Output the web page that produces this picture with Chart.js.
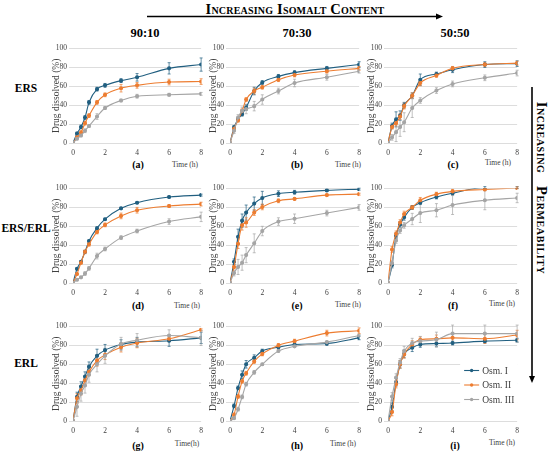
<!DOCTYPE html>
<html>
<head>
<meta charset="utf-8">
<script src="https://cdn.jsdelivr.net/npm/chart.js@4.4.0/dist/chart.umd.min.js"></script>
<style>
  body { margin: 0; background: #fff; width: 550px; height: 457px; position: relative; overflow: hidden; font-family: 'Liberation Serif', serif; }
  canvas { position: absolute; }
  .lbl { position: absolute; white-space: nowrap; color: #000; transform: translate(-50%, -50%); }
  .bold { font-weight: bold; }
  .time { font-size: 7.5px; color: #404040; }
  .sc { font-variant: small-caps; font-weight: bold; font-size: 14.5px; letter-spacing: 0.2px; }
  svg { position: absolute; left: 0; top: 0; }
</style>
</head>
<body>
<svg width="550" height="457">
  <line x1="147" y1="16.5" x2="437" y2="16.5" stroke="#000" stroke-width="1.6"/>
  <polygon points="436,13.5 443,16.5 436,19.5" fill="#000"/>
  <line x1="532" y1="87" x2="532" y2="377" stroke="#000" stroke-width="1.6"/>
  <polygon points="529,376 532,383 535,376" fill="#000"/>
</svg>
<div class="lbl sc" style="left:295px;top:9px">Increasing Isomalt Content</div>
<div class="lbl sc" style="left:541px;top:188px;transform:translate(-50%,-50%) rotate(90deg);letter-spacing:0.6px">Increasing&nbsp;&nbsp;&nbsp;Permeability</div>

<div class="lbl bold" style="left:145px;top:33px;font-size:12.5px">90:10</div>
<div class="lbl bold" style="left:297px;top:33px;font-size:12.5px">70:30</div>
<div class="lbl bold" style="left:455px;top:33px;font-size:12.5px">50:50</div>

<div class="lbl bold" style="left:26px;top:88px;font-size:11.5px">ERS</div>
<div class="lbl bold" style="left:26px;top:228px;font-size:11.5px">ERS/ERL</div>
<div class="lbl bold" style="left:26px;top:363px;font-size:11.5px">ERL</div>

<div class="lbl bold" style="left:138px;top:164px;font-size:10px">(a)</div>
<div class="lbl bold" style="left:297px;top:164px;font-size:10px">(b)</div>
<div class="lbl bold" style="left:453px;top:164px;font-size:10px">(c)</div>
<div class="lbl bold" style="left:138px;top:305px;font-size:10px">(d)</div>
<div class="lbl bold" style="left:297px;top:305px;font-size:10px">(e)</div>
<div class="lbl bold" style="left:453px;top:305px;font-size:10px">(f)</div>
<div class="lbl bold" style="left:138px;top:445px;font-size:10px">(g)</div>
<div class="lbl bold" style="left:297px;top:445px;font-size:10px">(h)</div>
<div class="lbl bold" style="left:455px;top:445px;font-size:10px">(i)</div>

<div class="lbl time" style="left:185px;top:164px">Time (h)</div>
<div class="lbl time" style="left:348px;top:164px">Time (h)</div>
<div class="lbl time" style="left:498px;top:162px">Time (h)</div>
<div class="lbl time" style="left:187px;top:305px">Time (h)</div>
<div class="lbl time" style="left:348px;top:304px">Time (h)</div>
<div class="lbl time" style="left:502px;top:303px">Time (h)</div>
<div class="lbl time" style="left:187px;top:443px">Time(h)</div>
<div class="lbl time" style="left:343px;top:443px">Time (h)</div>
<div class="lbl time" style="left:502px;top:442px">Time (h)</div>

<canvas id="a"></canvas><canvas id="b"></canvas><canvas id="c"></canvas>
<canvas id="d"></canvas><canvas id="e"></canvas><canvas id="f"></canvas>
<canvas id="g"></canvas><canvas id="h"></canvas><canvas id="i"></canvas>

<script>
// sampling times (h)
const times = [0, 0.25, 0.5, 0.75, 1, 1.5, 2, 3, 4, 6, 8];
const seriesNames = ['Osm. I', 'Osm. II', 'Osm. III'];
const xTicks = [0, 2, 4, 6, 8];
const yTicks = [0, 20, 40, 60, 80, 100];

// (a) ERS 90:10
const a_I   = [0, 10, 17, 27, 43, 57, 61, 66, 69.5, 79, 83];
const a_II  = [0, 6, 11, 21, 29, 43, 51, 58, 61, 64.5, 65];
const a_III = [0, 4.5, 8, 13, 18, 28, 37, 45, 49.5, 51, 52];
const a_I_sd   = [0, 1.5, 2, 2, 2, 2, 2, 2, 4, 6, 7];
const a_II_sd  = [0, 1, 2, 2, 2, 2, 2, 4, 3, 3, 3];
const a_III_sd = [0, 1, 1.5, 2, 1.5, 3, 1.5, 1.5, 2, 1.5, 1.5];
// (b) ERS 70:30
const b_I   = [0, 16.5, 25, 30.5, 37.5, 55, 64, 70.5, 74.5, 79, 83];
const b_II  = [0, 15, 24, 34, 46, 55, 59, 67, 72, 76, 79];
const b_III = [0, 13, 27, 34, 36, 39, 46, 55, 63.5, 69.5, 76];
const b_I_sd   = [0, 2, 2, 2, 3, 4, 2, 2, 2, 2, 3];
const b_II_sd  = [0, 2, 2, 2, 2, 3, 2, 2, 2, 2, 2];
const b_III_sd = [0, 3, 3, 4, 5, 5, 5, 3, 4, 3, 2];
// (c) ERS 50:50
const c_I   = [0, 18, 25, 29, 40, 50, 67, 73, 77.5, 83, 84];
const c_II  = [0, 17, 21, 28, 39, 50, 63.5, 71.5, 79, 83, 84.5];
const c_III = [0, 6, 11.5, 17, 22, 37, 45, 55.5, 62.5, 69, 74];
const c_I_sd   = [0, 3, 8, 5, 3, 3, 6, 2, 3, 3, 3];
const c_II_sd  = [0, 2, 3, 3, 3, 3, 3, 2, 2, 2, 2];
const c_III_sd = [0, 3, 10, 10, 10, 10, 3, 3, 3, 3, 3];
// (d) ERS/ERL 90:10
const d_I   = [0, 15, 22.5, 33, 44.5, 58, 67.5, 79, 85, 91, 93];
const d_II  = [0, 9.5, 21.5, 33, 41, 54, 61.5, 71, 77, 81.5, 83.5];
const d_III = [0, 3.5, 6, 10, 15.5, 28.5, 36, 48, 55, 65, 70];
const d_I_sd   = [0, 1, 1, 1, 1, 1.5, 1, 1, 1, 1, 1];
const d_II_sd  = [0, 1, 1.5, 2, 2, 2, 2, 3, 3, 1.5, 2];
const d_III_sd = [0, 1, 1, 2, 2, 3, 2, 2, 2, 3, 5];
// (e) ERS/ERL 70:30
const e_I   = [0, 22.5, 49, 66, 74.5, 84, 90, 94.5, 96, 98, 99.3];
const e_II  = [0, 17, 41.5, 61, 64, 74.5, 80.5, 87, 89, 93, 94];
const e_III = [0, 10.5, 17, 21.5, 29.5, 42, 55, 65, 68, 74, 80];
const e_I_sd   = [0, 3, 8, 7, 8, 7, 7, 3, 2, 1, 1];
const e_II_sd  = [0, 2, 5, 5, 5, 3, 3, 2, 1, 1, 1];
const e_III_sd = [0, 3, 8, 8, 8, 10, 5, 4, 5, 3, 3];
// (f) ERS/ERL 50:50
const f_I   = [0, 19, 50, 62, 69.5, 80, 85, 91, 95, 101, 101];
const f_II  = [0, 35.5, 52, 64, 73, 80, 87.5, 94, 97, 99, 100.7];
const f_III = [0, 21, 45, 55.5, 61, 67.7, 74, 77, 82.5, 87.5, 90];
const f_I_sd   = [0, 3, 3, 3, 3, 2, 2, 2, 2, 1, 1];
const f_II_sd  = [0, 3, 3, 3, 3, 2, 3, 2, 2, 1, 1];
const f_III_sd = [0, 3, 3, 3, 3, 6, 10, 7, 10, 10, 5];
// (g) ERL 90:10
const g_I   = [0, 25.5, 36.5, 47, 57.5, 69, 75, 81, 83.5, 85, 88];
const g_II  = [0, 24, 32.5, 43, 52, 64, 70, 78, 82.5, 87, 96.5];
const g_III = [0, 15, 29, 37.5, 49, 60, 69, 81.5, 85.5, 90.5, 88];
const g_I_sd   = [0, 5, 5, 5, 5, 7, 6, 5, 5, 6, 6];
const g_II_sd  = [0, 5, 5, 4, 4, 6, 5, 5, 5, 3, 1];
const g_III_sd = [0, 10, 8, 8, 8, 8, 8, 7, 7, 6, 8];
// (h) ERL 70:30
const h_I   = [0, 16, 35, 49, 60, 67, 74, 78, 81, 82, 88];
const h_II  = [0, 6.5, 26, 42, 50.5, 63, 71, 80, 84.5, 93, 95.5];
const h_III = [0, 3, 12.5, 25.5, 39, 51.5, 60, 74, 79, 83.5, 90.5];
const h_I_sd   = [0, 2, 2, 4, 4, 3, 2, 2, 2, 2, 2];
const h_II_sd  = [0, 2, 2, 2, 2, 2, 2, 2, 2, 3, 3];
const h_III_sd = [0, 1, 2, 2, 2, 2, 1, 1, 1, 1, 1];
// (i) ERL 50:50
const i_I   = [0, 15, 41, 60, 71, 77.5, 81, 82, 82.5, 84.5, 85.5];
const i_II  = [0, 9.5, 39, 60, 70.5, 81, 86, 87, 88, 87, 91];
const i_III = [0, 26, 46, 62, 74, 82.5, 84.5, 86, 92.5, 92.5, 92.5];
const i_I_sd   = [0, 4, 4, 4, 4, 4, 3, 3, 2, 2, 2];
const i_II_sd  = [0, 4, 4, 4, 4, 4, 3, 4, 5, 5, 5];
const i_III_sd = [0, 4, 4, 4, 5, 5, 5, 8, 9, 9, 9];

const colors = ['#215f80', '#ed7d31', '#a5a5a5'];
const serif = "'Liberation Serif', serif";

// panel plot-area boxes: [left, top, width, height]
const panels = {
  a: { box: [72.7, 46.7, 130.3, 96], vals: [a_I, a_II, a_III], sd: [a_I_sd, a_II_sd, a_III_sd] },
  b: { box: [230, 46.7, 130.7, 96], vals: [b_I, b_II, b_III], sd: [b_I_sd, b_II_sd, b_III_sd] },
  c: { box: [388, 46.7, 131, 96], vals: [c_I, c_II, c_III], sd: [c_I_sd, c_II_sd, c_III_sd] },
  d: { box: [72.7, 187.3, 130.3, 96], vals: [d_I, d_II, d_III], sd: [d_I_sd, d_II_sd, d_III_sd] },
  e: { box: [230, 187.3, 130.7, 96], vals: [e_I, e_II, e_III], sd: [e_I_sd, e_II_sd, e_III_sd] },
  f: { box: [388, 187.3, 131, 96], vals: [f_I, f_II, f_III], sd: [f_I_sd, f_II_sd, f_III_sd] },
  g: { box: [72.7, 325, 130.3, 96.3], vals: [g_I, g_II, g_III], sd: [g_I_sd, g_II_sd, g_III_sd] },
  h: { box: [230, 325, 130.7, 96.3], vals: [h_I, h_II, h_III], sd: [h_I_sd, h_II_sd, h_III_sd] },
  i: { box: [388, 325, 131, 96.3], vals: [i_I, i_II, i_III], sd: [i_I_sd, i_II_sd, i_III_sd], legend: true }
};

const AXW = 22, AXH = 16, PADT = 5, PADR = 6;

// draws the +/- error bars through the chart scales
const errorBars = {
  id: 'errorBars',
  beforeDatasetsDraw(chart) {
    const { ctx, scales: { x, y } } = chart;
    ctx.save();
    ctx.lineWidth = 0.7;
    chart.data.datasets.forEach(ds => {
      ctx.strokeStyle = ds.borderColor;
      ds.data.forEach(p => {
        if (!p.sd) return;
        const px = x.getPixelForValue(p.x);
        const y1 = y.getPixelForValue(p.y - p.sd);
        const y2 = y.getPixelForValue(p.y + p.sd);
        ctx.beginPath();
        ctx.moveTo(px, y1); ctx.lineTo(px, y2);
        ctx.moveTo(px - 1.5, y1); ctx.lineTo(px + 1.5, y1);
        ctx.moveTo(px - 1.5, y2); ctx.lineTo(px + 1.5, y2);
        ctx.stroke();
      });
    });
    ctx.restore();
  }
};

// legend box inside panel (i)
const innerLegend = {
  id: 'innerLegend',
  afterDatasetsDraw(chart) {
    if (!chart.options.plugins.innerLegend.show) return;
    const { ctx, chartArea: ca } = chart;
    const lx = ca.right - 55, ly = ca.top + 36;
    ctx.save();
    ctx.fillStyle = '#fff';
    ctx.fillRect(lx - 2, ly, 57, 46);
    ctx.font = '9.5px ' + serif;
    ctx.textBaseline = 'middle';
    chart.data.datasets.forEach((ds, k) => {
      const ry = ly + 8 + k * 14.5;
      ctx.strokeStyle = ds.borderColor;
      ctx.fillStyle = ds.borderColor;
      ctx.lineWidth = 1.1;
      ctx.beginPath(); ctx.moveTo(lx + 2, ry); ctx.lineTo(lx + 17, ry); ctx.stroke();
      ctx.beginPath(); ctx.arc(lx + 9.5, ry, 1.7, 0, Math.PI * 2); ctx.fill();
      ctx.fillStyle = '#404040';
      ctx.fillText(ds.label, lx + 20, ry + 0.5);
    });
    ctx.restore();
  }
};

Object.entries(panels).forEach(([id, p]) => {
  const [l, t, w, h] = p.box;
  const cv = document.getElementById(id);
  cv.width = Math.round(AXW + w + PADR);
  cv.height = Math.round(PADT + h + AXH);
  cv.style.left = (l - AXW) + 'px';
  cv.style.top = (t - PADT) + 'px';

  new Chart(cv.getContext('2d'), {
    type: 'line',
    data: {
      datasets: p.vals.map((v, k) => ({
        label: seriesNames[k],
        data: times.map((tt, j) => ({ x: tt, y: v[j], sd: p.sd[k][j] })),
        borderColor: colors[k],
        backgroundColor: colors[k],
        borderWidth: 1.1,
        pointRadius: 1.5,
        pointHoverRadius: 0,
        cubicInterpolationMode: 'monotone',
        order: 3 - k
      }))
    },
    options: {
      responsive: false,
      animation: false,
      events: [],
      layout: { padding: { top: PADT, right: PADR, left: 0, bottom: 0 } },
      plugins: { legend: { display: false }, tooltip: { enabled: false }, innerLegend: { show: !!p.legend } },
      scales: {
        x: {
          type: 'linear', min: 0, max: 8,
          afterBuildTicks: s => { s.ticks = xTicks.map(v => ({ value: v })); },
          afterFit: s => { s.height = AXH; },
          grid: { display: false, drawTicks: false, tickLength: 0 },
          border: { display: false },
          ticks: { font: { family: serif, size: 7.5 }, color: '#404040', padding: 6, maxRotation: 0 }
        },
        y: {
          min: 0, max: 100,
          afterBuildTicks: s => { s.ticks = yTicks.map(v => ({ value: v })); },
          afterFit: s => { s.width = AXW; },
          grid: { color: '#d9d9d9', lineWidth: 0.9, tickLength: 4 },
          border: { display: false },
          ticks: { font: { family: serif, size: 7.5 }, color: '#404040', padding: 2 },
          title: { display: true, text: 'Drug dissolved (%)', font: { family: serif, size: 9.5 }, color: '#404040', padding: 0 }
        }
      }
    },
    plugins: [errorBars, innerLegend]
  });
});
</script>
</body>
</html>
